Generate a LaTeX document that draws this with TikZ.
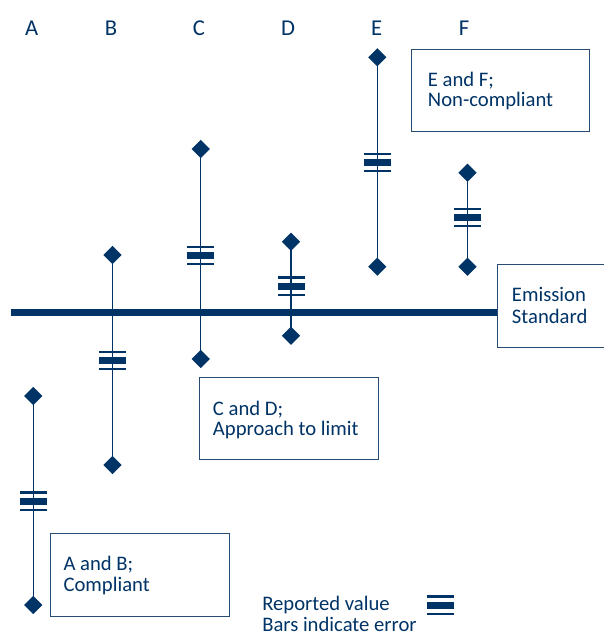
\documentclass[tikz,border=0pt]{standalone}
\usepackage{fontspec}
\setmainfont{Carlito}
\usetikzlibrary{shapes.geometric}
\definecolor{navy}{RGB}{0,51,102}
\definecolor{boxline}{RGB}{40,75,115}
\newcommand{\valmark}[1]{%
  \begin{scope}[shift={(#1)}]
    \fill[navy] (-13.5,-9.6) rectangle (13.5,-7.5);
    \fill[navy] (-13.5,-3.5) rectangle (13.5,3.5);
    \fill[navy] (-13.5,7.5) rectangle (13.5,9.6);
  \end{scope}}
\begin{document}
\begin{tikzpicture}[x=0.75pt,y=-0.75pt,
  txt/.style={anchor=base west, inner sep=0, text=navy, font=\fontsize{15.5}{19}\selectfont},
  lab/.style={anchor=base, inner sep=0, text=navy, font=\fontsize{17}{20}\selectfont},
  dia/.style={diamond, fill=navy, inner sep=0, minimum width=13.8pt, minimum height=13.8pt},
  errline/.style={draw=navy, line width=1.1pt},
  boxst/.style={draw=boxline, line width=1pt, anchor=north west, inner sep=0, fill=white},
  stdline/.style={draw=navy, line width=5pt}
]
\clip (0,0) rectangle (604,637);
\fill[white] (0,0) rectangle (604,637);

% column labels
\node[lab] (lA) at (31.7,35) {A};
\node[lab] (lB) at (111,35) {B};
\node[lab] (lC) at (199,35) {C};
\node[lab] (lD) at (288,35) {D};
\node[lab] (lE) at (376.7,35) {E};
\node[lab] (lF) at (464,35) {F};

% boxes
\node[boxst, minimum width=133.5pt, minimum height=61.5pt] (efbox) at (411,49) {};
\node[boxst, minimum width=134.25pt, minimum height=61.5pt] (cdbox) at (199,377) {};
\node[boxst, minimum width=134.25pt, minimum height=62.25pt] (abbox) at (50,533) {};
\node[boxst, minimum width=95pt, minimum height=62.25pt] (embox) at (497,264) {};

% emission standard line
\coordinate (hl) at (11,312.3);
\draw[stdline] (hl) -- (embox.west |- hl);

% error bars
\foreach \n/\x/\t/\b/\v in {A/33.3/396/605/501, B/112.5/255/465/360.7, C/200.7/149/359/255.3, D/291/241.7/335.7/286, E/377.3/57.3/266.7/162.5, F/467.5/172.7/266.7/217.7}{
  \node[dia] (\n top) at (\x,\t) {};
  \node[dia] (\n bot) at (\x,\b) {};
  \draw[errline] (\n top.center) -- (\n bot.center);
  \coordinate (\n val) at (\x,\v);
  \valmark{\n val}
}

% box texts
\node[txt] (ef1) at (427.7,86.7) {E and F;};
\node[txt] (ef2) at (427.7,106.7) {Non-compliant};
\node[txt] (cd1) at (212.7,415) {C and D;};
\node[txt] (cd2) at (212.7,435.7) {Approach to limit};
\node[txt] (ab1) at (63.3,570) {A and B;};
\node[txt] (ab2) at (63.3,591.7) {Compliant};
\node[txt] (em1) at (511.7,301.7) {Emission};
\node[txt] (em2) at (511.7,323.3) {Standard};

% legend
\node[txt] (lg1) at (262,610) {Reported value};
\node[txt] (lg2) at (262,631.7) {Bars indicate error};
\coordinate (legmark) at (440,605);
\valmark{legmark}
\end{tikzpicture}
\end{document}
